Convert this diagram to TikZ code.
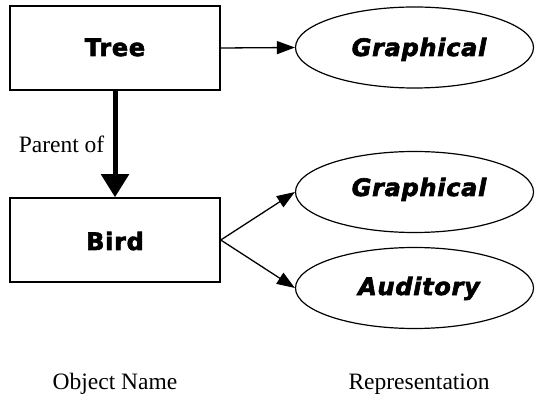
\documentclass[tikz,border=0pt]{standalone}
\usepackage{fontspec}
\setmainfont{Liberation Serif}
\newfontfamily\heavy[FakeBold=2.5,LetterSpace=3]{DejaVu Sans Bold}
\newfontfamily\heavyit[FakeBold=2.5,LetterSpace=3]{DejaVu Sans Bold Oblique}
\usetikzlibrary{arrows.meta,shapes.geometric}
\begin{document}
\begin{tikzpicture}[x=1pt,y=-1pt,
  objbox/.style={draw,line width=1.5pt,minimum width=210pt,minimum height=84pt,inner sep=0pt},
  rep/.style={draw,ellipse,line width=1.2pt,minimum width=238pt,minimum height=81pt,inner sep=0pt},
  heavytext/.style={font=\heavy\fontsize{24}{26}\selectfont,anchor=base,inner sep=0pt},
  reptext/.style={font=\heavyit\fontsize{24}{26}\selectfont,anchor=base,inner sep=0pt},
  plain/.style={font=\fontsize{23.5}{25}\selectfont,anchor=base,inner sep=0pt},
  thin/.style={line width=1.3pt,-{Triangle[length=18pt,width=13pt]}},
  thick/.style={line width=5pt,-{Triangle[length=23pt,width=27pt]}}]
\useasboundingbox (0,0) rectangle (535,395);
\node[objbox] (tree) at (115,48) {};
\node[heavytext] (treet) at (115,56) {Tree};
\node[objbox] (bird) at (115,240) {};
\node[heavytext] (birdt) at (115,250) {Bird};
\node[rep] (g1) at (414.5,47.5) {};
\node[reptext] (g1t) at (419,56) {Graphical};
\node[rep] (g2) at (414.5,192) {};
\node[reptext] (g2t) at (419,196) {Graphical};
\node[rep] (au) at (414.5,288) {};
\node[reptext] (aut) at (419,295) {Auditory};
\draw[thin] (tree.east) -- (g1.west);
\draw[thick] (tree.south) -- (bird.north);
\draw[thin] (bird.east) -- (g2.west);
\draw[thin] (bird.east) -- (au.west);
\node[plain] (parent) at (61.5,153) {Parent of};
\node[plain] (objname) at (115,389) {Object Name};
\node[plain] (repname) at (419,389) {Representation};
\end{tikzpicture}
\end{document}
